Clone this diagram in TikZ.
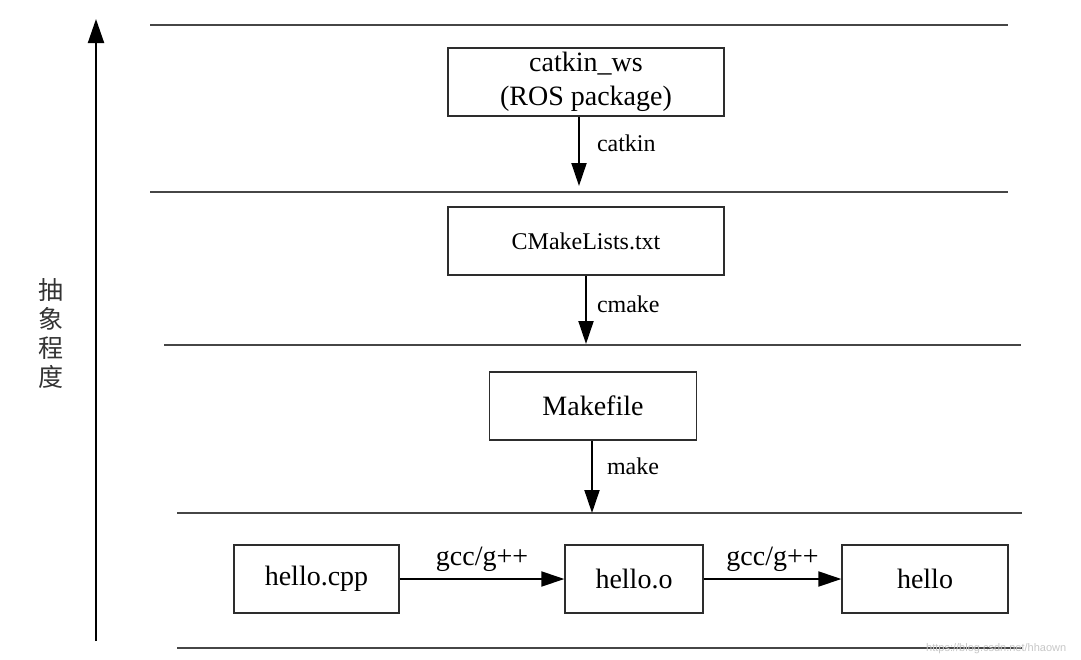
\documentclass[tikz,border=0pt]{standalone}
\usepackage{fontspec}
\setmainfont{Liberation Serif}
\newfontfamily\cjk{Noto Sans CJK SC}
\newfontfamily\wmfont{Liberation Sans}
\usetikzlibrary{arrows.meta}
\definecolor{linegray}{RGB}{70,70,70}
\definecolor{boxgray}{RGB}{45,45,45}
\tikzset{
  box/.style={draw=boxgray, line width=1.3pt, minimum height=68pt, inner sep=0pt, align=center, font=\fontsize{28}{34}\selectfont},
  level/.style={draw=linegray, line width=2.8pt},
  flow/.style={draw=black, line width=2pt, -{Triangle[length=23pt,width=15pt]}},
  lbl/.style={inner sep=0pt, font=\fontsize{24}{28}\selectfont},
  biglbl/.style={inner sep=0pt, font=\fontsize{28}{32}\selectfont}
}
\begin{document}
\begin{tikzpicture}[x=1pt,y=-1pt]
\useasboundingbox (0,0) rectangle (1081,659);
% level lines
\coordinate (L1a) at (150,25);  \coordinate (L1b) at (1008,25);
\coordinate (L2a) at (150,192); \coordinate (L2b) at (1008,192);
\coordinate (L3a) at (164,345); \coordinate (L3b) at (1021,345);
\coordinate (L4a) at (177,513); \coordinate (L4b) at (1022,513);
\coordinate (L5a) at (177,648); \coordinate (L5b) at (1022,648);
\draw[level] (L1a) -- (L1b);
\draw[level] (L2a) -- (L2b);
\draw[level] (L3a) -- (L3b);
\draw[level] (L4a) -- (L4b);
\draw[level] (L5a) -- (L5b);
% axis
\coordinate (axb) at (96,641);
\coordinate (axt) at (96,19);
\draw[draw=black, line width=2pt, -{Triangle[length=24pt,width=16pt]}] (axb) -- (axt);
\node[inner sep=0pt, align=center, font=\cjk\fontsize{25}{29}\selectfont, text=black!80] (axlabel) at (51,333) {抽\\象\\程\\度};
% boxes
\node[box, minimum width=276pt] (ws) at (586,82) {catkin\_ws\\(ROS package)};
\node[box, minimum width=276pt, font=\fontsize{24}{28}\selectfont] (cm) at (586,241) {CMakeLists.txt};
\node[box, minimum width=207pt] (mk) at (593,406) {Makefile};
\node[box, minimum width=165pt] (cpp) at (316.5,579) {hello.cpp};
\node[box, minimum width=138pt] (obj) at (634,579) {hello.o};
\node[box, minimum width=166pt] (exe) at (925,579) {hello};
% arrows
\draw[flow, shorten >=6pt] ([xshift=-7pt]ws.south) -- ([xshift=-7pt]ws.south |- L2a)
  node[lbl, pos=0.36, right=17pt] (lcat) {catkin};
\draw[flow, shorten >=1pt] (cm.south) -- (cm.south |- L3a)
  node[lbl, pos=0.41, right=10pt] (lcm) {cmake};
\draw[flow] ([xshift=-1pt]mk.south) -- ([xshift=-1pt]mk.south |- L4a)
  node[lbl, pos=0.36, right=14pt] (lmk) {make};
\draw[flow] (cpp.east) -- (obj.west)
  node[biglbl, midway, above=6pt] (lg1) {gcc/g++};
\draw[flow] (obj.east) -- (exe.west)
  node[biglbl, midway, above=6pt] (lg2) {gcc/g++};
% watermark
\node[anchor=west, inner sep=0pt, text=black!22, font=\wmfont\fontsize{11}{12}\selectfont] (wm) at (926,649) {https://blog.csdn.net/hhaown};
\end{tikzpicture}
\end{document}
